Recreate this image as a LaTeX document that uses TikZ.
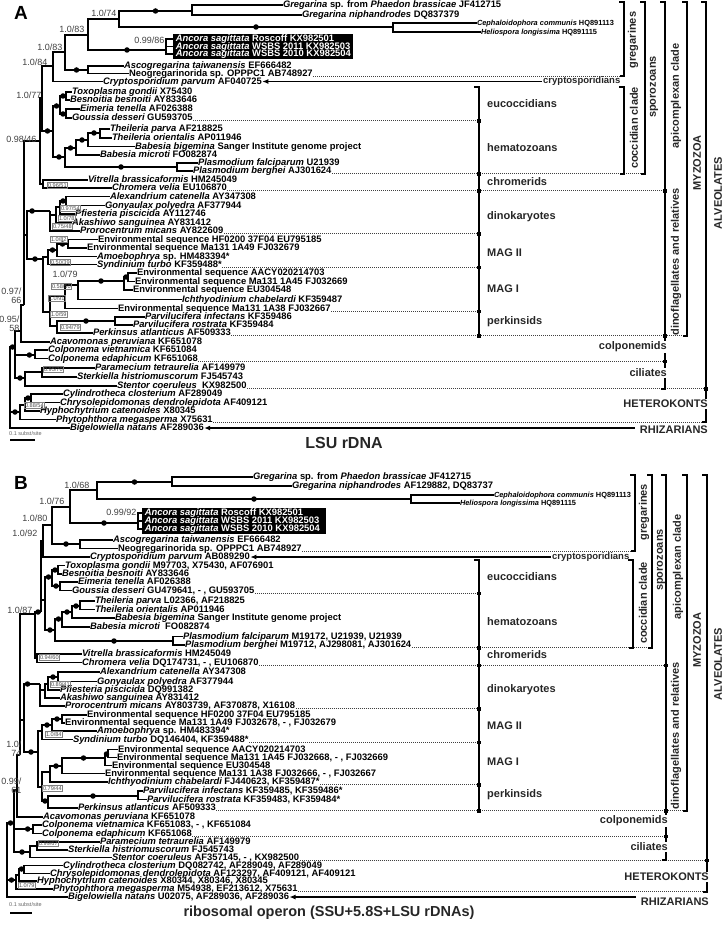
\documentclass[tikz,border=0pt]{standalone}
\usepackage{fontspec}
\setmainfont{Liberation Sans}
\usetikzlibrary{arrows.meta}
\newcommand{\mkleaf}[5][sp]{\node[#1] (#2) at (#3,#4) {#5};}
\newcommand{\mkbr}[2]{\draw[tr] (#1) |- (#2);}
\newcommand{\mkbd}[2]{\draw[tr] (#1) |- (#2) node[dot,pos=0.75]{};}
\newcommand{\mkbdp}[3]{\draw[tr] (#1) |- (#2) node[dot,pos=#3]{};}
\newcommand{\mkdl}[2]{\draw[dl] (#1.base east) -- (#1.base -| #2);}
\newcommand{\mksq}[2]{\node[sq] at (#1.base -| #2) {};}
\newcommand{\spn}[1]{{\itshape #1}}
\begin{document}
\begin{tikzpicture}[x=1pt,y=-1pt,
 sp/.style={anchor=west, xshift=-0.5pt, inner sep=0.3pt, font=\fontsize{9.4}{10}\selectfont\bfseries, text height=6.4pt, text depth=0.8pt},
 ssp/.style={sp, font=\fontsize{7.4}{8}\selectfont\bfseries, text height=5.2pt, text depth=0.8pt},
 wsp/.style={sp, text=white, text height=6pt, text depth=0.4pt, inner sep=0.2pt},
 tr/.style={line width=1.1pt},
 dot/.style={circle, fill=black, inner sep=0pt, minimum size=5.5pt},
 bs/.style={anchor=east, font=\fontsize{9}{9}\selectfont, text=black!75, inner sep=0.5pt, align=right},
 bsw/.style={bs, anchor=west},
 bx/.style={anchor=west, font=\fontsize{5.6}{6}\selectfont, text=black!70, draw=black!50, line width=0.4pt, inner sep=0.8pt},
 dl/.style={line width=0.9pt, dash pattern=on 0.9pt off 1.1pt, black!75},
 brk/.style={line width=2pt},
 sq/.style={rectangle, fill=black, inner sep=0pt, minimum size=3.6pt},
 grp/.style={font=\fontsize{11}{11}\selectfont\bfseries, text=black!85, inner sep=1pt},
 grpe/.style={grp, anchor=east, fill=white},
 grpw/.style={grp, anchor=west},
 grpr/.style={grp, rotate=90},
 arr/.style={line width=1.1pt, -{Latex[length=6pt,width=5pt]}},
 ttl/.style={font=\fontsize{16}{16}\selectfont\bfseries, text=black!85},
 scl/.style={anchor=west, font=\fontsize{5.5}{6}\selectfont, text=black!60, inner sep=0pt}
]
\useasboundingbox (0,0) rectangle (724,933);

% ================= PANEL A =================
\node[font=\fontsize{19}{19}\selectfont\bfseries] (lblA) at (21,13) {A};
\node[fill=black, anchor=north west, minimum width=180pt, minimum height=25pt, inner sep=0pt] (boxA) at (173,34) {};

\mkleaf{A-GSp}{283}{5}{\spn{Gregarina} sp. from \spn{Phaedon brassicae} JF412715}
\mkleaf{A-GNi}{302}{15}{\spn{Gregarina niphandrodes} DQ837379}
\mkleaf[ssp]{A-Ceph}{477}{23}{\spn{Cephaloidophora communis} HQ891113}
\mkleaf[ssp]{A-Heli}{481}{32}{\spn{Heliospora longissima} HQ891115}
\mkleaf[wsp]{A-AnR}{176}{39}{\spn{Ancora sagittata} Roscoff KX982501}
\mkleaf[wsp]{A-AnW1}{176}{46.5}{\spn{Ancora sagittata} WSBS 2011 KX982503}
\mkleaf[wsp]{A-AnW0}{176}{54}{\spn{Ancora sagittata} WSBS 2010 KX982504}
\mkleaf{A-Asco}{124}{66}{\spn{Ascogregarina taiwanensis} EF666482}
\mkleaf{A-Neo}{129}{73.5}{Neogregarinorida sp. OPPPC1 AB748927}
\mkleaf{A-Cry}{103}{81.5}{\spn{Cryptosporidium parvum} AF040725}
\mkleaf{A-Toxo}{72}{92}{\spn{Toxoplasma gondii} X75430}
\mkleaf{A-Besn}{70}{100}{\spn{Besnoitia besnoiti} AY833646}
\mkleaf{A-Eim}{80}{109}{\spn{Eimeria tenella} AF026388}
\mkleaf{A-Gous}{72}{118}{\spn{Goussia desseri} GU593705}
\mkleaf{A-Tpar}{110}{129}{\spn{Theileria parva} AF218825}
\mkleaf{A-Tori}{112}{138}{\spn{Theileria orientalis} AP011946}
\mkleaf{A-Bbig}{135}{146.5}{\spn{Babesia bigemina} Sanger Institute genome project}
\mkleaf{A-Bmic}{100}{155}{\spn{Babesia microti} FO082874}
\mkleaf{A-Pfal}{198}{163}{\spn{Plasmodium falciparum} U21939}
\mkleaf{A-Pber}{193}{171}{\spn{Plasmodium berghei} AJ301624}
\mkleaf{A-Vit}{88}{180}{\spn{Vitrella brassicaformis} HM245049}
\mkleaf{A-Chr}{112}{188}{\spn{Chromera velia} EU106870}
\mkleaf{A-Alex}{110}{196.5}{\spn{Alexandrium catenella} AY347308}
\mkleaf{A-Gony}{105}{205.5}{\spn{Gonyaulax polyedra} AF377944}
\mkleaf{A-Pfie}{75}{214}{\spn{Pfiesteria piscicida} AY112746}
\mkleaf{A-Akas}{72}{222.5}{\spn{Akashiwo sanguinea} AY831412}
\mkleaf{A-Pror}{80}{231}{\spn{Prorocentrum micans} AY822609}
\mkleaf{A-EnvHF}{98}{239.5}{Environmental sequence HF0200 37F04 EU795185}
\mkleaf{A-E1A49}{87}{248}{Environmental sequence Ma131 1A49 FJ032679}
\mkleaf{A-Amoe}{97}{256.5}{\spn{Amoebophrya} sp. HM483394*}
\mkleaf{A-Synd}{97}{264.5}{\spn{Syndinium turbo} KF359488*}
\mkleaf{A-AACY}{137}{273}{Environmental sequence AACY020214703}
\mkleaf{A-E1A45}{135}{281.5}{Environmental sequence Ma131 1A45 FJ032669}
\mkleaf{A-EU}{133}{290}{Environmental sequence EU304548}
\mkleaf{A-Ichth}{182}{299.5}{\spn{Ichthyodinium chabelardi} KF359487}
\mkleaf{A-E1A38}{118}{308.5}{Environmental sequence Ma131 1A38 FJ032667}
\mkleaf{A-Pinf}{145}{317}{\spn{Parvilucifera infectans} KF359486}
\mkleaf{A-Pros}{133}{325}{\spn{Parvilucifera rostrata} KF359484}
\mkleaf{A-Perk}{93}{333}{\spn{Perkinsus atlanticus} AF509333}
\mkleaf{A-Acav}{50}{342}{\spn{Acavomonas peruviana} KF651078}
\mkleaf{A-Cviet}{48}{350}{\spn{Colponema vietnamica} KF651084}
\mkleaf{A-Cedap}{48}{358.5}{\spn{Colponema edaphicum} KF651068}
\mkleaf{A-Param}{95}{368}{\spn{Paramecium tetraurelia} AF149979}
\mkleaf{A-Sterk}{77}{377}{\spn{Sterkiella histriomuscorum} FJ545743}
\mkleaf{A-Stent}{117}{386}{\spn{Stentor coeruleus}\ \ KX982500}
\mkleaf{A-Cyl}{63}{394}{\spn{Cylindrotheca closterium} AF289049}
\mkleaf{A-Chry}{60}{402.5}{\spn{Chrysolepidomonas dendrolepidota} AF409121}
\mkleaf{A-Hyph}{40}{411}{\spn{Hyphochytrium catenoides} X80345}
\mkleaf{A-Phyt}{56}{419.5}{\spn{Phytophthora megasperma} X75631}
\mkleaf{A-Bigel}{70}{428}{\spn{Bigelowiella natans} AF289036}

% internal nodes A
\coordinate (gA1) at (192,11);
\coordinate (gA2) at (393,27);
\coordinate (gA174) at (119,19);
\coordinate (gAnc) at (166,50);
\coordinate (gA183a) at (88,35);
\coordinate (gAsc) at (88,70);
\coordinate (gA183b) at (65,52);
\coordinate (gA184) at (53,66);
\coordinate (cTB) at (66,96);
\coordinate (cEG) at (66,114);
\coordinate (cEuc) at (60,106);
\coordinate (cTh) at (100,133);
\coordinate (cThB) at (88,140);
\coordinate (cPir) at (76,148);
\coordinate (cPlas) at (177,167);
\coordinate (cHem) at (65,157);
\coordinate (cCoc) at (53,131);
\coordinate (n177) at (42,98);
\coordinate (nVC) at (43,184);
\coordinate (n098) at (40,141);
\coordinate (dAG) at (66,201);
\coordinate (dPf) at (60,207);
\coordinate (dAk) at (56,215);
\coordinate (dPr) at (50,211);
\coordinate (mHF) at (68,244);
\coordinate (mAm) at (57,250);
\coordinate (mSy) at (48,257);
\coordinate (eE2) at (128,277);
\coordinate (eE3) at (124,281);
\coordinate (eEI) at (78,285);
\coordinate (eMAG) at (65,296);
\coordinate (pPP) at (115,321);
\coordinate (pP) at (57,326);
\coordinate (eMP) at (50,312);
\coordinate (sSM) at (43,259);
\coordinate (dDF) at (27,235);
\coordinate (nMyz) at (24,305);
\coordinate (nA95) at (21,331);
\coordinate (nCol) at (35,355);
\coordinate (nCil3) at (42,372);
\coordinate (nCil) at (25,378);
\coordinate (nAlv) at (15,347);
\coordinate (hCC) at (31,398);
\coordinate (hHy) at (25,405);
\coordinate (hHet) at (20,412);
\coordinate (rootA) at (10,400);

\mkbr{gA1}{A-GSp} \mkbr{gA1}{A-GNi}
\mkbr{gA2}{A-Ceph} \mkbr{gA2}{A-Heli}
\mkbd{gA174}{gA1} \mkbd{gA174}{gA2}
\mkbr{gAnc}{A-AnR} \mkbr{gAnc}{A-AnW1} \mkbr{gAnc}{A-AnW0}
\mkbr{gA183a}{gA174} \mkbd{gA183a}{gAnc}
\mkbr{gAsc}{A-Asco} \mkbr{gAsc}{A-Neo}
\mkbr{gA183b}{gA183a} \mkbd{gA183b}{gAsc}
\mkbr{gA184}{gA183b} \mkbr{gA184}{A-Cry}
\mkbr{cTB}{A-Toxo} \mkbr{cTB}{A-Besn}
\mkbr{cEG}{A-Eim} \mkbr{cEG}{A-Gous}
\mkbd{cEuc}{cTB} \mkbd{cEuc}{cEG}
\mkbr{cTh}{A-Tpar} \mkbr{cTh}{A-Tori}
\mkbd{cThB}{cTh} \mkbr{cThB}{A-Bbig}
\mkbd{cPir}{cThB} \mkbr{cPir}{A-Bmic}
\mkbr{cPlas}{A-Pfal} \mkbr{cPlas}{A-Pber}
\mkbd{cHem}{cPir} \mkbd{cHem}{cPlas}
\mkbd{cCoc}{cEuc} \mkbd{cCoc}{cHem}
\mkbr{n177}{gA184} \mkbd{n177}{cCoc}
\mkbr{nVC}{A-Vit} \mkbr{nVC}{A-Chr}
\mkbr{n098}{n177} \mkbr{n098}{nVC}
\mkbr{dAG}{A-Alex} \mkbr{dAG}{A-Gony}
\mkbd{dPf}{dAG} \mkbr{dPf}{A-Pfie}
\mkbr{dAk}{dPf} \mkbr{dAk}{A-Akas}
\mkbr{dPr}{dAk} \mkbr{dPr}{A-Pror}
\mkbr{mHF}{A-EnvHF} \mkbr{mHF}{A-E1A49}
\mkbd{mAm}{mHF} \mkbr{mAm}{A-Amoe}
\mkbd{mSy}{mAm} \mkbr{mSy}{A-Synd}
\mkbr{eE2}{A-AACY} \mkbr{eE2}{A-E1A45}
\mkbd{eE3}{eE2} \mkbr{eE3}{A-EU}
\mkbd{eEI}{eE3} \mkbr{eEI}{A-Ichth}
\mkbr{eMAG}{eEI} \mkbr{eMAG}{A-E1A38}
\mkbr{pPP}{A-Pinf} \mkbr{pPP}{A-Pros}
\mkbd{pP}{pPP} \mkbr{pP}{A-Perk}
\mkbr{eMP}{eMAG} \mkbr{eMP}{pP}
\mkbr{sSM}{mSy} \mkbr{sSM}{eMP}
\mkbdp{dDF}{dPr}{0.61} \mkbd{dDF}{sSM}
\mkbr{nMyz}{n098} \mkbr{nMyz}{dDF}
\mkbr{nA95}{nMyz} \mkbr{nA95}{A-Acav}
\mkbr{nCol}{A-Cviet} \mkbr{nCol}{A-Cedap}
\mkbr{nCil3}{A-Param} \mkbr{nCil3}{A-Sterk}
\mkbr{nCil}{nCil3} \mkbr{nCil}{A-Stent}
\mkbr{nAlv}{nA95} \mkbdp{nAlv}{nCol}{0.86} \mkbd{nAlv}{nCil}
\mkbr{hCC}{A-Cyl} \mkbr{hCC}{A-Chry}
\mkbd{hHy}{hCC} \mkbr{hHy}{A-Hyph}
\mkbr{hHet}{hHy} \mkbr{hHet}{A-Phyt}
\mkbd{rootA}{nAlv} \mkbd{rootA}{hHet} \mkbr{rootA}{A-Bigel}

% support values A
\node[bs] at (117,13) {1.0/74};
\node[bs] at (85,29) {1.0/83};
\node[bs] at (165,40) {0.99/86};
\node[bs] at (63,47) {1.0/83};
\node[bs] at (48,62) {1.0/84};
\node[bs] at (42,95) {1.0/77};
\node[bs] at (37,139) {0.98/46};
\node[bs] at (22,296) {0.97/\\66};
\node[bs] at (20,324) {0.95/\\58};
\node[bsw] at (52,274) {1.0/79};
\node[bx] at (47,185) {0.96/51};
\node[bx] at (60,208.5) {0.97/54};
\node[bx] at (58,218) {1.0/78};
\node[bx] at (52,226.5) {0.75/48};
\node[bx] at (50,239) {1.0/82};
\node[bx] at (50,262) {0.50/39};
\node[bx] at (51,286) {0.58/50};
\node[bx] at (48,298) {1.0/91};
\node[bx] at (50,314) {1.0/59};
\node[bx] at (60,327) {0.94/79};
\node[bx] at (43,369) {0.95/70};
\node[bx] at (24,405.5) {0.88/54};

% brackets A
\coordinate (cA1) at (479,0);
\coordinate (cA2) at (624,0);
\coordinate (cA3) at (645,0);
\coordinate (cA4) at (665,0);
\coordinate (cA5) at (687,0);
\coordinate (cA6) at (706,0);
\mkdl{A-Neo}{cA2} \mkdl{A-Gous}{cA1} \mkdl{A-Pber}{cA3} \mkdl{A-Chr}{cA4}
\mkdl{A-Pror}{cA1} \mkdl{A-Synd}{cA1} \mkdl{A-E1A38}{cA1} \mkdl{A-Perk}{cA5}
\mkdl{A-Cedap}{cA4} \mkdl{A-Stent}{cA6} \mkdl{A-Phyt}{cA6}
\draw[brk] (474,87) -- (479,87) -- (A-Perk.base -| cA1);
\draw[brk] (619,2) -- (624,2) -- (A-Neo.base -| cA2) -- ++(-4,0);
\draw[brk] (619,87) -- (624,87) -- (A-Pber.base -| cA2) -- ++(-4,0);
\draw[brk] (640,2) -- (645,2) -- (A-Pber.base -| cA3) -- ++(-4,0);
\draw[brk] (660,2) -- (665,2) -- (A-Stent.base -| cA4) -- ++(-4,0);
\draw[brk] (682,2) -- (687,2) -- (A-Perk.base -| cA5) -- ++(-4,0);
\draw[brk] (701,2) -- (706,2) -- (A-Phyt.base -| cA6) -- ++(-4,0);
\mksq{A-Gous}{cA1} \mksq{A-Pber}{cA1} \mksq{A-Chr}{cA1} \mksq{A-Pror}{cA1}
\mksq{A-Synd}{cA1} \mksq{A-E1A38}{cA1} \mksq{A-Perk}{cA1}
\mksq{A-Chr}{cA4} \mksq{A-Perk}{cA4} \mksq{A-Cedap}{cA4} \mksq{A-Stent}{cA6}

\node[grpr] at (633,40) {gregarines};
\node[grpr] at (634,128) {coccidian clade};
\node[grpr] at (654,87) {sporozoans};
\node[grpr] at (676,96) {apicomplexan clade};
\node[grpr] at (697,163) {MYZOZOA};
\node[grpr] at (718,193) {ALVEOLATES};
\node[grpr] at (676,262) {dinoflagellates and relatives};
\node[grpw] at (486,104) {eucoccidians};
\node[grpw] at (486,148) {hematozoans};
\node[grpw] at (486,182) {chromerids};
\node[grpw] at (486,217) {dinokaryotes};
\node[grpw] at (486,253) {MAG II};
\node[grpw] at (486,289) {MAG I};
\node[grpw] at (486,322) {perkinsids};
\node[grpe] at (668,347) {colponemids};
\node[grpe] at (668,373) {ciliates};
\node[grpe] at (709,404) {HETEROKONTS};
\node[grpe] (rhA) at (709,430) {RHIZARIANS};
\node[grpw, font=\fontsize{9.5}{10}\selectfont\bfseries] (cryA) at (542,81.5) {cryptosporidians};
\draw[arr] (cryA.west) -- (cryA.west -| A-Cry.east);
\draw[arr] (A-Bigel.east -| rhA.west) ++(-4,0) -- (A-Bigel.east);

\node[scl] at (9,434) {0.1 subst/site};
\draw[line width=1.2pt] (10,440) -- (35,440);
\node[ttl] at (344,443) {LSU rDNA};

% ================= PANEL B =================
\node[font=\fontsize{19}{19}\selectfont\bfseries] (lblB) at (21,483) {B};
\node[fill=black, anchor=north west, minimum width=184pt, minimum height=26pt, inner sep=0pt] (boxB) at (142,508) {};

\mkleaf{B-GSp}{253}{477}{\spn{Gregarina} sp. from \spn{Phaedon brassicae} JF412715}
\mkleaf{B-GNi}{292}{486}{\spn{Gregarina niphandrodes} AF129882, DQ83737}
\mkleaf[ssp]{B-Ceph}{494}{495}{\spn{Cephaloidophora communis} HQ891113}
\mkleaf[ssp]{B-Heli}{460}{503}{\spn{Heliospora longissima} HQ891115}
\mkleaf[wsp]{B-AnR}{145}{513}{\spn{Ancora sagittata} Roscoff KX982501}
\mkleaf[wsp]{B-AnW1}{145}{521}{\spn{Ancora sagittata} WSBS 2011 KX982503}
\mkleaf[wsp]{B-AnW0}{145}{529}{\spn{Ancora sagittata} WSBS 2010 KX982504}
\mkleaf{B-Asco}{113}{540}{\spn{Ascogregarina taiwanensis} EF666482}
\mkleaf{B-Neo}{118}{548.5}{Neogregarinorida sp. OPPPC1 AB748927}
\mkleaf{B-Cry}{90}{557}{\spn{Cryptosporidium parvum} AB089290}
\mkleaf{B-Toxo}{65}{565.5}{\spn{Toxoplasma gondii} M97703, X75430, AF076901}
\mkleaf{B-Besn}{62}{574}{\spn{Besnoitia besnoiti} AY833646}
\mkleaf{B-Eim}{78}{582}{\spn{Eimeria tenella} AF026388}
\mkleaf{B-Gous}{72}{590.5}{\spn{Goussia desseri} GU479641, - , GU593705}
\mkleaf{B-Tpar}{95}{601}{\spn{Theileria parva} L02366, AF218825}
\mkleaf{B-Tori}{95}{609.5}{\spn{Theileria orientalis} AP011946}
\mkleaf{B-Bbig}{115}{618}{\spn{Babesia bigemina} Sanger Institute genome project}
\mkleaf{B-Bmic}{90}{627}{\spn{Babesia microti}\ \ FO082874}
\mkleaf{B-Pfal}{183}{636.5}{\spn{Plasmodium falciparum} M19172, U21939, U21939}
\mkleaf{B-Pber}{185}{645}{\spn{Plasmodium berghei} M19712, AJ298081, AJ301624}
\mkleaf{B-Vit}{82}{654}{\spn{Vitrella brassicaformis} HM245049}
\mkleaf{B-Chr}{82}{662.5}{\spn{Chromera velia} DQ174731, - , EU106870}
\mkleaf{B-Alex}{100}{672}{\spn{Alexandrium catenella} AY347308}
\mkleaf{B-Gony}{97}{681.5}{\spn{Gonyaulax polyedra} AF377944}
\mkleaf{B-Pfie}{60}{690}{\spn{Pfiesteria piscicida} DQ991382}
\mkleaf{B-Akas}{60}{698}{\spn{Akashiwo sanguinea} AY831412}
\mkleaf{B-Pror}{65}{706}{\spn{Prorocentrum micans} AY803739, AF370878, X16108}
\mkleaf{B-EnvHF}{87}{715}{Environmental sequence HF0200 37F04 EU795185}
\mkleaf{B-E1A49}{65}{723}{Environmental sequence Ma131 1A49 FJ032678, - , FJ032679}
\mkleaf{B-Amoe}{97}{731}{\spn{Amoebophrya} sp. HM483394*}
\mkleaf{B-Synd}{73}{739.5}{\spn{Syndinium turbo} DQ146404, KF359488*}
\mkleaf{B-AACY}{118}{749.5}{Environmental sequence AACY020214703}
\mkleaf{B-E1A45}{117}{757.5}{Environmental sequence Ma131 1A45 FJ032668, - , FJ032669}
\mkleaf{B-EU}{112}{765.5}{Environmental sequence EU304548}
\mkleaf{B-E1A38}{105}{773.5}{Environmental sequence Ma131 1A38 FJ032666, - , FJ032667}
\mkleaf{B-Ichth}{108}{782}{\spn{Ichthyodinium chabelardi} FJ440623, KF359487*}
\mkleaf{B-Pinf}{143}{791}{\spn{Parvilucifera infectans} KF359485, KF359486*}
\mkleaf{B-Pros}{147}{799.5}{\spn{Parvilucifera rostrata} KF359483, KF359484*}
\mkleaf{B-Perk}{78}{808}{\spn{Perkinsus atlanticus} AF509333}
\mkleaf{B-Acav}{43}{817}{\spn{Acavomonas peruviana} KF651078}
\mkleaf{B-Cviet}{42}{825}{\spn{Colponema vietnamica} KF651083, - , KF651084}
\mkleaf{B-Cedap}{42}{833.5}{\spn{Colponema edaphicum} KF651068}
\mkleaf{B-Param}{100}{842}{\spn{Paramecium tetraurelia} AF149979}
\mkleaf{B-Sterk}{68}{850}{\spn{Sterkiella histriomuscorum} FJ545743}
\mkleaf{B-Stent}{112}{857.5}{\spn{Stentor coeruleus} AF357145, - , KX982500}
\mkleaf{B-Cyl}{63}{865.5}{\spn{Cylindrotheca closterium} DQ082742, AF289049, AF289049}
\mkleaf{B-Chry}{50}{873.5}{\spn{Chrysolepidomonas dendrolepidota} AF123297, AF409121, AF409121}
\mkleaf{B-Hyph}{37}{881}{\spn{Hyphochytrium catenoides} X80344, X80346, X80345}
\mkleaf{B-Phyt}{53}{889}{\spn{Phytophthora megasperma} M54938, EF213612, X75631}
\mkleaf{B-Bigel}{68}{897}{\spn{Bigelowiella natans} U02075, AF289036, AF289036}

\coordinate (gB1) at (172,482);
\coordinate (gB2) at (411,499);
\coordinate (gB168) at (97,490);
\coordinate (gBAnc) at (138,523);
\coordinate (gB176) at (70,507);
\coordinate (gBAsc) at (80,544);
\coordinate (gB180) at (52,525);
\coordinate (gB192) at (43,541);
\coordinate (cBTB) at (58,570);
\coordinate (cBEG) at (60,586);
\coordinate (cBEuc) at (52,577);
\coordinate (cBTh) at (80,606);
\coordinate (cBThB) at (72,612);
\coordinate (cBPir) at (62,619);
\coordinate (cBPlas) at (173,641);
\coordinate (cBHem) at (55,630);
\coordinate (cBCoc) at (45,600);
\coordinate (nBapi) at (41,612);
\coordinate (nBVC) at (37,658);
\coordinate (nB187) at (35,614);
\coordinate (dBAG) at (58,677);
\coordinate (dBPf) at (48,684);
\coordinate (dBAk) at (45,690);
\coordinate (dBPr) at (40,684);
\coordinate (mBHF) at (62,719);
\coordinate (mBAm) at (52,725);
\coordinate (mBSy) at (42,731);
\coordinate (eBE2) at (108,754);
\coordinate (eBE3) at (105,758);
\coordinate (eBEI) at (62,766);
\coordinate (eBMAG) at (50,772);
\coordinate (pBPP) at (138,796);
\coordinate (pBP) at (48,801);
\coordinate (eBMP) at (42,787);
\coordinate (sBSM) at (38,752);
\coordinate (dBDF) at (24,720);
\coordinate (nBMyz) at (20,755);
\coordinate (nB61) at (17,790);
\coordinate (nBAlv) at (14,823);
\coordinate (nBCol) at (33,829);
\coordinate (nBCil3) at (37,846);
\coordinate (nBCil) at (30,852);
\coordinate (hBCC) at (24,869);
\coordinate (hBHy) at (19,875);
\coordinate (hBHet) at (16,880);
\coordinate (rootB) at (7,860);

\mkbr{gB1}{B-GSp} \mkbr{gB1}{B-GNi}
\mkbr{gB2}{B-Ceph} \mkbr{gB2}{B-Heli}
\mkbd{gB168}{gB1} \mkbd{gB168}{gB2}
\mkbr{gBAnc}{B-AnR} \mkbr{gBAnc}{B-AnW1} \mkbr{gBAnc}{B-AnW0}
\mkbr{gB176}{gB168} \mkbd{gB176}{gBAnc}
\mkbr{gBAsc}{B-Asco} \mkbr{gBAsc}{B-Neo}
\mkbr{gB180}{gB176} \mkbd{gB180}{gBAsc}
\mkbr{gB192}{gB180} \mkbr{gB192}{B-Cry}
\mkbr{cBTB}{B-Toxo} \mkbr{cBTB}{B-Besn}
\mkbr{cBEG}{B-Eim} \mkbr{cBEG}{B-Gous}
\mkbd{cBEuc}{cBTB} \mkbd{cBEuc}{cBEG}
\mkbr{cBTh}{B-Tpar} \mkbr{cBTh}{B-Tori}
\mkbd{cBThB}{cBTh} \mkbr{cBThB}{B-Bbig}
\mkbd{cBPir}{cBThB} \mkbr{cBPir}{B-Bmic}
\mkbr{cBPlas}{B-Pfal} \mkbr{cBPlas}{B-Pber}
\mkbd{cBHem}{cBPir} \mkbd{cBHem}{cBPlas}
\mkbd{cBCoc}{cBEuc} \mkbd{cBCoc}{cBHem}
\mkbr{nBapi}{gB192} \mkbr{nBapi}{cBCoc}
\mkbd{nB187}{nBapi} \mkbr{nB187}{nBVC}
\mkbr{nBVC}{B-Vit} \mkbr{nBVC}{B-Chr}
\mkbr{dBAG}{B-Alex} \mkbr{dBAG}{B-Gony}
\mkbd{dBPf}{dBAG} \mkbr{dBPf}{B-Pfie}
\mkbr{dBAk}{dBPf} \mkbr{dBAk}{B-Akas}
\mkbr{dBPr}{dBAk} \mkbr{dBPr}{B-Pror}
\mkbr{mBHF}{B-EnvHF} \mkbr{mBHF}{B-E1A49}
\mkbd{mBAm}{mBHF} \mkbr{mBAm}{B-Amoe}
\mkbd{mBSy}{mBAm} \mkbr{mBSy}{B-Synd}
\mkbr{eBE2}{B-AACY} \mkbr{eBE2}{B-E1A45}
\mkbd{eBE3}{eBE2} \mkbr{eBE3}{B-EU}
\mkbd{eBEI}{eBE3} \mkbr{eBEI}{B-E1A38}
\mkbd{eBMAG}{eBEI} \mkbr{eBMAG}{B-Ichth}
\mkbr{pBPP}{B-Pinf} \mkbr{pBPP}{B-Pros}
\mkbd{pBP}{pBPP} \mkbr{pBP}{B-Perk}
\mkbr{eBMP}{eBMAG} \mkbd{eBMP}{pBP}
\mkbr{sBSM}{mBSy} \mkbr{sBSM}{eBMP}
\mkbdp{dBDF}{dBPr}{0.61} \mkbd{dBDF}{sBSM}
\mkbr{nBMyz}{nB187} \mkbr{nBMyz}{dBDF}
\mkbr{nB61}{nBMyz} \mkbr{nB61}{B-Acav}
\mkbr{nBCol}{B-Cviet} \mkbr{nBCol}{B-Cedap}
\mkbr{nBCil3}{B-Param} \mkbr{nBCil3}{B-Sterk}
\mkbr{nBCil}{nBCil3} \mkbr{nBCil}{B-Stent}
\mkbr{nBAlv}{nB61} \mkbdp{nBAlv}{nBCol}{0.86} \mkbd{nBAlv}{nBCil}
\mkbr{hBCC}{B-Cyl} \mkbr{hBCC}{B-Chry}
\mkbd{hBHy}{hBCC} \mkbr{hBHy}{B-Hyph}
\mkbr{hBHet}{hBHy} \mkbr{hBHet}{B-Phyt}
\mkbd{rootB}{nBAlv} \mkbd{rootB}{hBHet} \mkbr{rootB}{B-Bigel}

\node[bs] at (90,485) {1.0/68};
\node[bs] at (65,501) {1.0/76};
\node[bs] at (137,512) {0.99/92};
\node[bs] at (48,518) {1.0/80};
\node[bs] at (38,533) {1.0/92};
\node[bs] at (33,610) {1.0/87};
\node[bs] at (22,749) {1.0/\\74};
\node[bs] at (22,786) {0.99/\\61};
\node[bx] at (39,657) {0.94/60};
\node[bx] at (50,684) {0.89/41};
\node[bx] at (45,734) {1.0/84};
\node[bx] at (42,788) {0.79/44};
\node[bx] at (38,843) {0.99/67};
\node[bx] at (18,885) {1.0/79};

\coordinate (cB1) at (479,0);
\coordinate (cB2) at (635,0);
\coordinate (cB2c) at (633,0);
\coordinate (cB3) at (652,0);
\coordinate (cB4) at (666,0);
\coordinate (cB5) at (687,0);
\coordinate (cB6) at (707,0);
\mkdl{B-Neo}{cB2} \mkdl{B-Gous}{cB1} \mkdl{B-Pber}{cB3} \mkdl{B-Chr}{cB4}
\mkdl{B-Pror}{cB1} \mkdl{B-Synd}{cB1} \mkdl{B-Ichth}{cB1} \mkdl{B-Perk}{cB5}
\mkdl{B-Cedap}{cB4} \mkdl{B-Stent}{cB6} \mkdl{B-Phyt}{cB6}
\draw[brk] (474,560) -- (479,560) -- (B-Perk.base -| cB1);
\draw[brk] (630,475) -- (635,475) -- (B-Neo.base -| cB2) -- ++(-4,0);
\draw[brk] (628,560) -- (633,560) -- (B-Pber.base -| cB2c) -- ++(-4,0);
\draw[brk] (647,475) -- (652,475) -- (B-Pber.base -| cB3) -- ++(-4,0);
\draw[brk] (661,475) -- (666,475) -- (B-Stent.base -| cB4) -- ++(-4,0);
\draw[brk] (682,475) -- (687,475) -- (B-Perk.base -| cB5) -- ++(-4,0);
\draw[brk] (702,475) -- (707,475) -- (B-Phyt.base -| cB6) -- ++(-4,0);
\mksq{B-Gous}{cB1} \mksq{B-Pber}{cB1} \mksq{B-Chr}{cB1} \mksq{B-Pror}{cB1}
\mksq{B-Synd}{cB1} \mksq{B-Ichth}{cB1} \mksq{B-Perk}{cB1}
\mksq{B-Chr}{cB4} \mksq{B-Perk}{cB4} \mksq{B-Cedap}{cB4} \mksq{B-Stent}{cB6}

\node[grpr] at (644,512) {gregarines};
\node[grpr] at (643,603) {coccidian clade};
\node[grpr] at (661,560) {sporozoans};
\node[grpr] at (678,567) {apicomplexan clade};
\node[grpr] at (697,640) {MYZOZOA};
\node[grpr] at (718,664) {ALVEOLATES};
\node[grpr] at (676,736) {dinoflagellates and relatives};
\node[grpw] at (486,577) {eucoccidians};
\node[grpw] at (486,622) {hematozoans};
\node[grpw] at (486,655) {chromerids};
\node[grpw] at (486,690) {dinokaryotes};
\node[grpw] at (486,726) {MAG II};
\node[grpw] at (486,762) {MAG I};
\node[grpw] at (486,795) {perkinsids};
\node[grpe] at (669,821) {colponemids};
\node[grpe] at (669,847) {ciliates};
\node[grpe] at (710,877) {HETEROKONTS};
\node[grpe] (rhB) at (710,902) {RHIZARIANS};
\node[grpw, font=\fontsize{9.5}{10}\selectfont\bfseries] (cryB) at (551,557) {cryptosporidians};
\draw[arr] (cryB.west) -- (cryB.west -| B-Cry.east);
\draw[arr] (B-Bigel.east -| rhB.west) ++(-4,0) -- (B-Bigel.east);

\node[scl] at (9,905) {0.1 subst/site};
\draw[line width=1.2pt] (10,913) -- (32,913);
\node[ttl, font=\fontsize{14.5}{15}\selectfont\bfseries] at (329,913) {ribosomal operon (SSU+5.8S+LSU rDNAs)};
\end{tikzpicture}
\end{document}
